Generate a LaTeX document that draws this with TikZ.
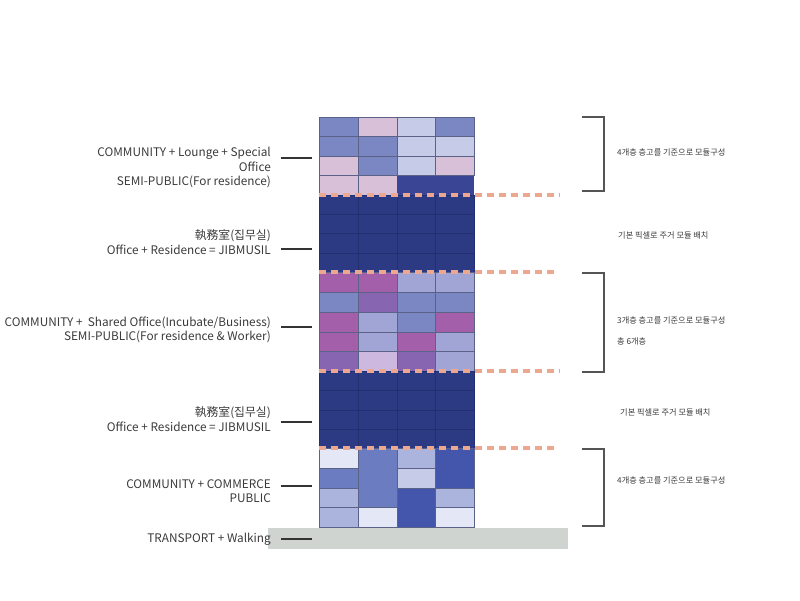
\documentclass[tikz,border=0pt]{standalone}
\usepackage{fontspec}
\setmainfont{Noto Sans CJK KR}
\definecolor{cMid}{HTML}{7A87C3}
\definecolor{cPink}{HTML}{D9C0D9}
\definecolor{cLight}{HTML}{C6CBE8}
\definecolor{cNavy}{HTML}{2C3A84}
\definecolor{cNavyB}{HTML}{3A4596}
\definecolor{cPurple}{HTML}{A45FAA}
\definecolor{cPeri}{HTML}{A0A5D6}
\definecolor{cViolet}{HTML}{8765B0}
\definecolor{cPale}{HTML}{E4E7F6}
\definecolor{cSteel}{HTML}{6B7DC0}
\definecolor{cSoft}{HTML}{AAB4DC}
\definecolor{cRoyal}{HTML}{4455AC}
\definecolor{cLilac}{HTML}{CDB9DF}
\definecolor{cEdge}{HTML}{5A6288}
\definecolor{cEdgeD}{HTML}{232F70}
\definecolor{cDash}{HTML}{EBA78F}
\definecolor{cGround}{HTML}{D0D4D1}
\definecolor{cText}{HTML}{3A3A3A}
\definecolor{cBracket}{HTML}{555555}
\tikzset{
  x=1pt,y=-1pt,
  cell/.style={draw=cEdge,line width=0.8pt},
  navycell/.style={draw=cEdgeD,line width=0.8pt,fill=cNavy},
  floorline/.style={draw=cDash,line width=3.2pt,dash pattern=on 7pt off 5pt},
  ticklabel/.style={align=right,anchor=east,inner sep=0pt,text=cText,font=\fontsize{11.8}{14.4}\selectfont},
  sidenote/.style={anchor=west,inner sep=0pt,text=cText,font=\fontsize{8.2}{10}\selectfont},
  tick/.style={draw=black!80,line width=1.2pt},
  bracket/.style={draw=cBracket,line width=1.6pt},
}
\newcommand{\blk}[5]{\path[cell,fill=#5] (#1,#2) rectangle (#3,#4);}
\newcommand{\nav}[4]{\path[navycell] (#1,#2) rectangle (#3,#4);}
\begin{document}
\begin{tikzpicture}
\useasboundingbox (0,0) rectangle (800,600);
% ground
\fill[cGround] (268,528) rectangle (568,549);
% top block
\blk{319}{117}{358}{136.5}{cMid}\blk{358}{117}{397}{136.5}{cPink}\blk{397}{117}{435.5}{136.5}{cLight}\blk{435.5}{117}{474}{136.5}{cMid}
\blk{319}{136.5}{358}{156}{cMid}\blk{358}{136.5}{397}{156}{cMid}\blk{397}{136.5}{435.5}{156}{cLight}\blk{435.5}{136.5}{474}{156}{cLight}
\blk{319}{156}{358}{175.5}{cPink}\blk{358}{156}{397}{175.5}{cMid}\blk{397}{156}{435.5}{175.5}{cLight}\blk{435.5}{156}{474}{175.5}{cPink}
\blk{319}{175.5}{358}{195}{cPink}\blk{358}{175.5}{397}{195}{cPink}
\fill[cNavyB] (397,175.5) rectangle (474,195);
% navy block 1
\foreach \ya/\yb in {195/214.5,214.5/233.5,233.5/253,253/272.5}
  \foreach \xa/\xb in {319/358,358/397,397/435.5,435.5/474}
    {\nav{\xa}{\ya}{\xb}{\yb}}
% middle block
\blk{319}{272.5}{358}{292.5}{cPurple}\blk{358}{272.5}{397}{292.5}{cPurple}\blk{397}{272.5}{435.5}{292.5}{cPeri}\blk{435.5}{272.5}{474}{292.5}{cPeri}
\blk{319}{292.5}{358}{312}{cMid}\blk{358}{292.5}{397}{312}{cViolet}\blk{397}{292.5}{435.5}{312}{cMid}\blk{435.5}{292.5}{474}{312}{cMid}
\blk{319}{312}{358}{332}{cPurple}\blk{358}{312}{397}{332}{cPeri}\blk{397}{312}{435.5}{332}{cMid}\blk{435.5}{312}{474}{332}{cPurple}
\blk{319}{332}{358}{351.5}{cPurple}\blk{358}{332}{397}{351.5}{cPeri}\blk{397}{332}{435.5}{351.5}{cPurple}\blk{435.5}{332}{474}{351.5}{cPeri}
\blk{319}{351.5}{358}{371}{cViolet}\blk{358}{351.5}{397}{371}{cLilac}\blk{397}{351.5}{435.5}{371}{cViolet}\blk{435.5}{351.5}{474}{371}{cPeri}
% navy block 2
\foreach \ya/\yb in {371/390,390/410,410/429,429/448.5}
  \foreach \xa/\xb in {319/358,358/397,397/435.5,435.5/474}
    {\nav{\xa}{\ya}{\xb}{\yb}}
% bottom block
\blk{319}{448.5}{358}{468}{cPale}\blk{358}{448.5}{397}{507.5}{cSteel}\blk{397}{448.5}{435.5}{468}{cSoft}\blk{435.5}{448.5}{474}{488}{cRoyal}
\blk{319}{468}{358}{488}{cSteel}\blk{397}{468}{435.5}{488}{cLight}
\blk{319}{488}{358}{507.5}{cSoft}\blk{397}{488}{435.5}{527}{cRoyal}\blk{435.5}{488}{474}{507.5}{cSoft}
\blk{319}{507.5}{358}{527}{cSoft}\blk{358}{507.5}{397}{527}{cPale}\blk{435.5}{507.5}{474}{527}{cPale}
% floor lines
\coordinate (f1a) at (319,195);\coordinate (f1b) at (560,195);
\coordinate (f2a) at (319,272);\coordinate (f2b) at (556,272);
\coordinate (f3a) at (319,371);\coordinate (f3b) at (560,371);
\coordinate (f4a) at (319,448);\coordinate (f4b) at (556,448);
\draw[floorline] (f1a) -- (f1b);
\draw[floorline] (f2a) -- (f2b);
\draw[floorline] (f3a) -- (f3b);
\draw[floorline] (f4a) -- (f4b);
% left labels
\node[ticklabel] (l1) at (271,167.5) {COMMUNITY + Lounge + Special\\Office\\SEMI-PUBLIC(For residence)};
\node[ticklabel] (l2) at (271,242) {執務室(집무실)\\Office + Residence = JIBMUSIL};
\node[ticklabel] (l3) at (271,330) {COMMUNITY +\ \ Shared Office(Incubate/Business)\\SEMI-PUBLIC(For residence \& Worker)};
\node[ticklabel] (l4) at (271,419) {執務室(집무실)\\Office + Residence = JIBMUSIL};
\node[ticklabel] (l5) at (271,491) {COMMUNITY + COMMERCE\\PUBLIC};
\node[ticklabel] (l6) at (271,539) {TRANSPORT + Walking};
% ticks
\coordinate (t1a) at (281,158);\coordinate (t1b) at (312,158);
\coordinate (t2a) at (281,249);\coordinate (t2b) at (312,249);
\coordinate (t3a) at (281,327);\coordinate (t3b) at (312,327);
\coordinate (t4a) at (281,422);\coordinate (t4b) at (312,422);
\coordinate (t5a) at (281,486);\coordinate (t5b) at (312,486);
\coordinate (t6a) at (281,539);\coordinate (t6b) at (312,539);
\draw[tick] (t1a) -- (t1b);
\draw[tick] (t2a) -- (t2b);
\draw[tick] (t3a) -- (t3b);
\draw[tick] (t4a) -- (t4b);
\draw[tick] (t5a) -- (t5b);
\draw[tick] (t6a) -- (t6b);
% brackets
\draw[bracket] (582,117) -- (604,117) -- (604,191) -- (582,191);
\draw[bracket] (582,273) -- (604,273) -- (604,372) -- (582,372);
\draw[bracket] (582,449) -- (604,449) -- (604,526) -- (582,526);
% right notes
\node[sidenote] (r1) at (617,152) {4개층 층고를 기준으로 모듈구성};
\node[sidenote] (r2) at (618,235) {기본 픽셀로 주거 모듈 배치};
\node[sidenote] (r3) at (617,320) {3개층 층고를 기준으로 모듈구성};
\node[sidenote] (r3b) at (617,341) {총 6개층};
\node[sidenote] (r4) at (620,412) {기본 픽셀로 주거 모듈 배치};
\node[sidenote] (r5) at (617,480) {4개층 층고를 기준으로 모듈구성};
\end{tikzpicture}
\end{document}
